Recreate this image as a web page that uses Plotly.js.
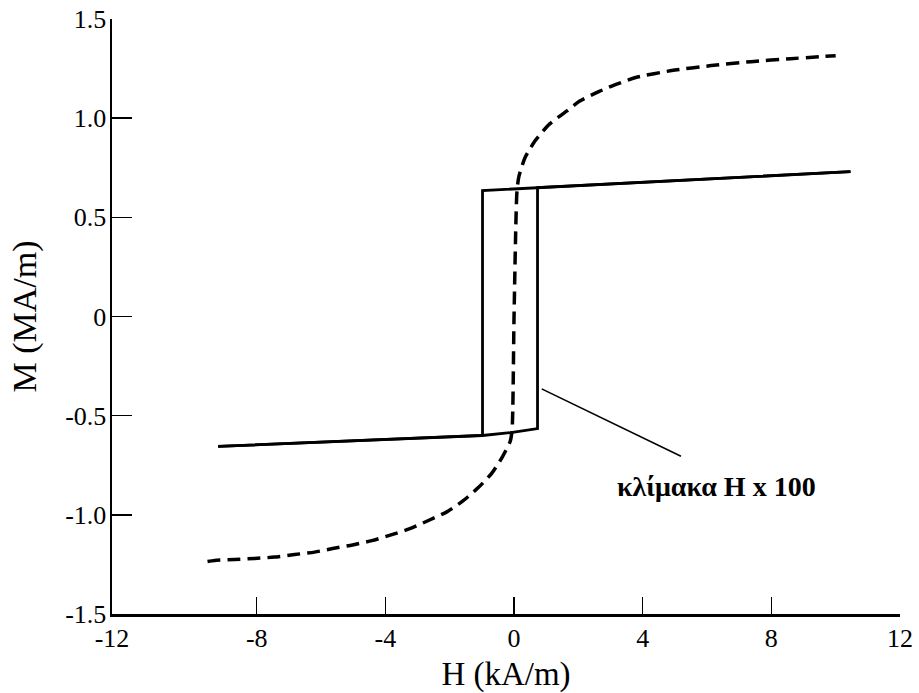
<!DOCTYPE html>
<html>
<head>
<meta charset="utf-8">
<script src="https://cdn.plot.ly/plotly-3.0.1.min.js"></script>
<style>
html,body{margin:0;padding:0;background:#fff;}
#chart{width:919px;height:693px;}
</style>
</head>
<body>
<div id="chart"></div>
<script>
// Hysteresis loop (H scaled x100) - ascending branch
const loopUpH = [-9.2, -0.98, -0.1, 0.73, 0.73, 10.46];
const loopUpM = [-0.655, -0.60, -0.585, -0.565, 0.65, 0.73];
// descending branch
const loopDownH = [10.46, 0.73, -0.98, -0.98, -9.2];
const loopDownM = [0.73, 0.65, 0.635, -0.60, -0.655];

// Dashed magnetization curve
const curveH = [-9.53, -9.31, -8.69, -8.07, -7.45, -6.82, -6.2, -5.64, -5.02, -4.42, -3.8, -3.24, -2.68, -2.09, -1.59, -1.12, -0.69, -0.37, -0.12, -0.06, 0.0, 0.09, 0.15, 0.34, 0.65, 1.1, 1.63, 2.03, 2.65, 3.17, 3.78, 4.9, 6.13, 7.37, 8.6, 10.0];
const curveM = [-1.235, -1.23, -1.225, -1.22, -1.213, -1.20, -1.188, -1.17, -1.152, -1.13, -1.10, -1.07, -1.03, -0.985, -0.93, -0.864, -0.79, -0.71, -0.63, -0.57, 0.0, 0.63, 0.705, 0.80, 0.885, 0.97, 1.035, 1.085, 1.135, 1.17, 1.205, 1.24, 1.265, 1.285, 1.30, 1.315];

// Leader line for the label
const leaderH = [0.86, 5.19];
const leaderM = [-0.365, -0.705];
const labelText = "κλίμακα H x 100";
const labelH = 6.3;
const labelM = -0.855;

// The drawn H axis starts a little left of -12 (the origin is labelled -12)
const xRange = [-12.5, 12];
const xTickVals = [-12.5, -8, -4, 0, 4, 8, 12];
const xTickText = ["-12", "-8", "-4", "0", "4", "8", "12"];
const yRange = [-1.5, 1.5];
const yTickVals = [-1.5, -1.0, -0.5, 0, 0.5, 1.0, 1.5];
const yTickText = ["-1.5", "-1.0", "-0.5", "0", "0.5", "1.0", "1.5"];

const FONT = "Liberation Serif, Times New Roman, serif";

const traces = [
  {x: curveH, y: curveM, mode: "lines", name: "M(H)",
   line: {color: "#000", width: 3.5, dash: "13px,7px", shape: "spline", smoothing: 0.6}},
  {x: loopUpH, y: loopUpM, mode: "lines", name: "ascending",
   line: {color: "#000", width: 2.8}},
  {x: loopDownH, y: loopDownM, mode: "lines", name: "descending",
   line: {color: "#000", width: 2.8}},
  {x: leaderH, y: leaderM, mode: "lines", name: "leader",
   line: {color: "#000", width: 1.6}}
];

const layout = {
  width: 919, height: 693,
  margin: {l: 112, r: 19, t: 19, b: 79},
  paper_bgcolor: "#fff", plot_bgcolor: "#fff",
  showlegend: false,
  font: {family: FONT, color: "#000", size: 26},
  xaxis: {
    range: xRange, tickvals: xTickVals, ticktext: xTickText,
    showgrid: false, zeroline: false, showline: true, linecolor: "#000", linewidth: 2.5,
    ticks: "inside", ticklen: 17, tickwidth: 1.5, tickcolor: "#000",
    ticklabelstandoff: -1,
    tickfont: {family: FONT, size: 26, color: "#000"},
    title: {text: "H (kA/m)", font: {family: FONT, size: 33, color: "#000"}, standoff: 11}
  },
  yaxis: {
    range: yRange, tickvals: yTickVals, ticktext: yTickText,
    showgrid: false, zeroline: false, showline: true, linecolor: "#000", linewidth: 2.5,
    ticks: "inside", ticklen: 20, tickwidth: 1.5, tickcolor: "#000",
    ticklabelstandoff: -2,
    tickfont: {family: FONT, size: 26, color: "#000"},
    title: {text: "M (MA/m)", font: {family: FONT, size: 34, color: "#000"}, standoff: 18}
  },
  annotations: [
    {x: labelH, y: labelM, xref: "x", yref: "y", text: labelText,
     showarrow: false, font: {family: FONT, size: 28, color: "#000", weight: "bold"}}
  ]
};

Plotly.newPlot("chart", traces, layout, {displayModeBar: false, staticPlot: true});
</script>
</body>
</html>
